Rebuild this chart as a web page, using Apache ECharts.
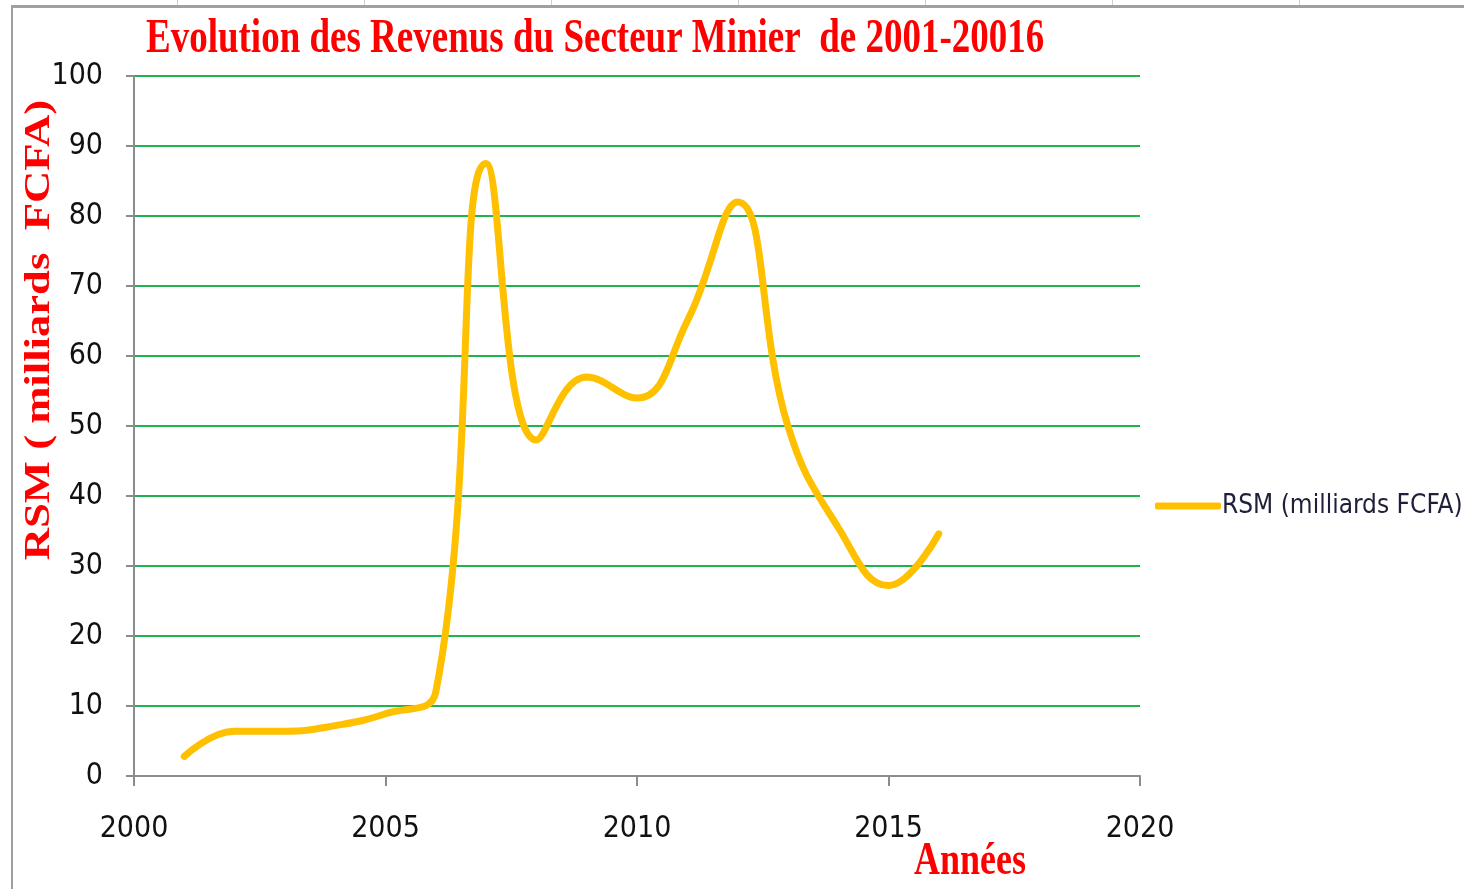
<!DOCTYPE html>
<html>
<head>
<meta charset="utf-8">
<script src="https://cdn.jsdelivr.net/npm/echarts@6/dist/echarts.min.js"></script>
<style>
  html, body { margin: 0; padding: 0; background: #fff; }
  #top-strip {
    position: absolute; left: 0; top: 0; width: 1464px; height: 5px;
    background: repeating-linear-gradient(to right, transparent 0, transparent 177px, #c8d0dc 177px, #c8d0dc 178px, transparent 178px, transparent 187px);
  }
  #frame {
    position: absolute; left: 11px; top: 5px; width: 1453px; height: 884px;
    border-left: 2px solid #a0a0a0; border-top: 3px solid #a0a0a0;
    box-sizing: border-box;
  }
  #chart { position: absolute; left: 0; top: 0; width: 1464px; height: 889px; }
</style>
</head>
<body>
<div id="top-strip"></div>
<div id="frame"></div>
<div id="chart"></div>
<script>
  // revenus du secteur minier (milliards FCFA)
  const years = [2001, 2002, 2003, 2004, 2005, 2006, 2007, 2008, 2009, 2010, 2011, 2012, 2013, 2014, 2015, 2016]
  const rsm = [2.8, 6.4, 6.4, 7.2, 8.9, 12, 87.5, 48, 57, 54, 65, 82, 50, 35.5, 27.2, 34.6]
  const xTicks = [2000, 2005, 2010, 2015, 2020]
  const yTicks = [0, 10, 20, 30, 40, 50, 60, 70, 80, 90, 100]

  const chartDom = document.getElementById('chart')
  const myChart = echarts.init(chartDom)

  const labelFont = '"Liberation Sans Narrow", "DejaVu Sans Condensed", "Liberation Sans", sans-serif'
  const serifFont = '"Liberation Serif", "DejaVu Serif", serif'

  const option = {
    animation: false,
    graphic: [
      {
        // titre (texte étiré verticalement comme dans l'original)
        type: 'text',
        x: 146,
        y: 40,
        scaleY: 1.3,
        style: {
          text: 'Evolution des Revenus du Secteur Minier  de 2001-20016',
          fill: '#ff0000',
          font: 'bold 37px ' + serifFont,
          align: 'left',
          verticalAlign: 'middle',
        },
      },
      {
        type: 'text',
        x: 914,
        y: 862,
        scaleY: 1.3,
        style: {
          text: 'Années',
          fill: '#ff0000',
          font: 'bold 36px ' + serifFont,
          align: 'left',
          verticalAlign: 'middle',
        },
      },
      {
        type: 'text',
        x: 40,
        y: 330,
        rotation: Math.PI / 2,
        scaleX: 1.24,
        style: {
          text: 'RSM ( milliards  FCFA)',
          fill: '#ff0000',
          font: 'bold 36px ' + serifFont,
          align: 'center',
          verticalAlign: 'middle',
        },
      },
    ],
    legend: {
      data: ['RSM (milliards FCFA)'],
      left: 1150,
      top: 488,
      icon: 'roundRect',
      itemWidth: 66,
      itemHeight: 7,
      itemGap: 4,
      textStyle: { color: '#1f1f3a', fontFamily: labelFont, fontSize: 26, padding: [0, 0, 0, -4] },
    },
    grid: {
      left: 134,
      right: 324,
      top: 76,
      bottom: 113,
      containLabel: false,
    },
    xAxis: {
      type: 'value',
      min: xTicks[0],
      max: xTicks[xTicks.length - 1],
      interval: 5,
      axisLine: { show: true, onZero: false, lineStyle: { color: '#8c8c8c', width: 2 } },
      axisTick: { show: true, inside: false, length: 10, lineStyle: { color: '#8c8c8c', width: 2 } },
      axisLabel: { color: '#111', fontFamily: labelFont, fontSize: 30, margin: 38, formatter: (v) => String(v) },
      splitLine: { show: false },
    },
    yAxis: {
      type: 'value',
      min: yTicks[0],
      max: yTicks[yTicks.length - 1],
      interval: 10,
      axisLine: { show: true, lineStyle: { color: '#8c8c8c', width: 2 } },
      axisTick: { show: true, inside: false, length: 8, lineStyle: { color: '#8c8c8c', width: 2 } },
      axisLabel: { color: '#111', fontFamily: labelFont, fontSize: 30, margin: 31 },
      splitLine: { show: true, lineStyle: { color: '#1db44e', width: 2 } },
    },
    series: [
      {
        name: 'RSM (milliards FCFA)',
        type: 'line',
        data: years.map((y, i) => [y, rsm[i]]),
        color: '#ffc000',
        smooth: 0.45,
        symbol: 'none',
        lineStyle: { width: 7, cap: 'round', join: 'round' },
      },
    ],
  }

  myChart.setOption(option)
</script>
</body>
</html>
